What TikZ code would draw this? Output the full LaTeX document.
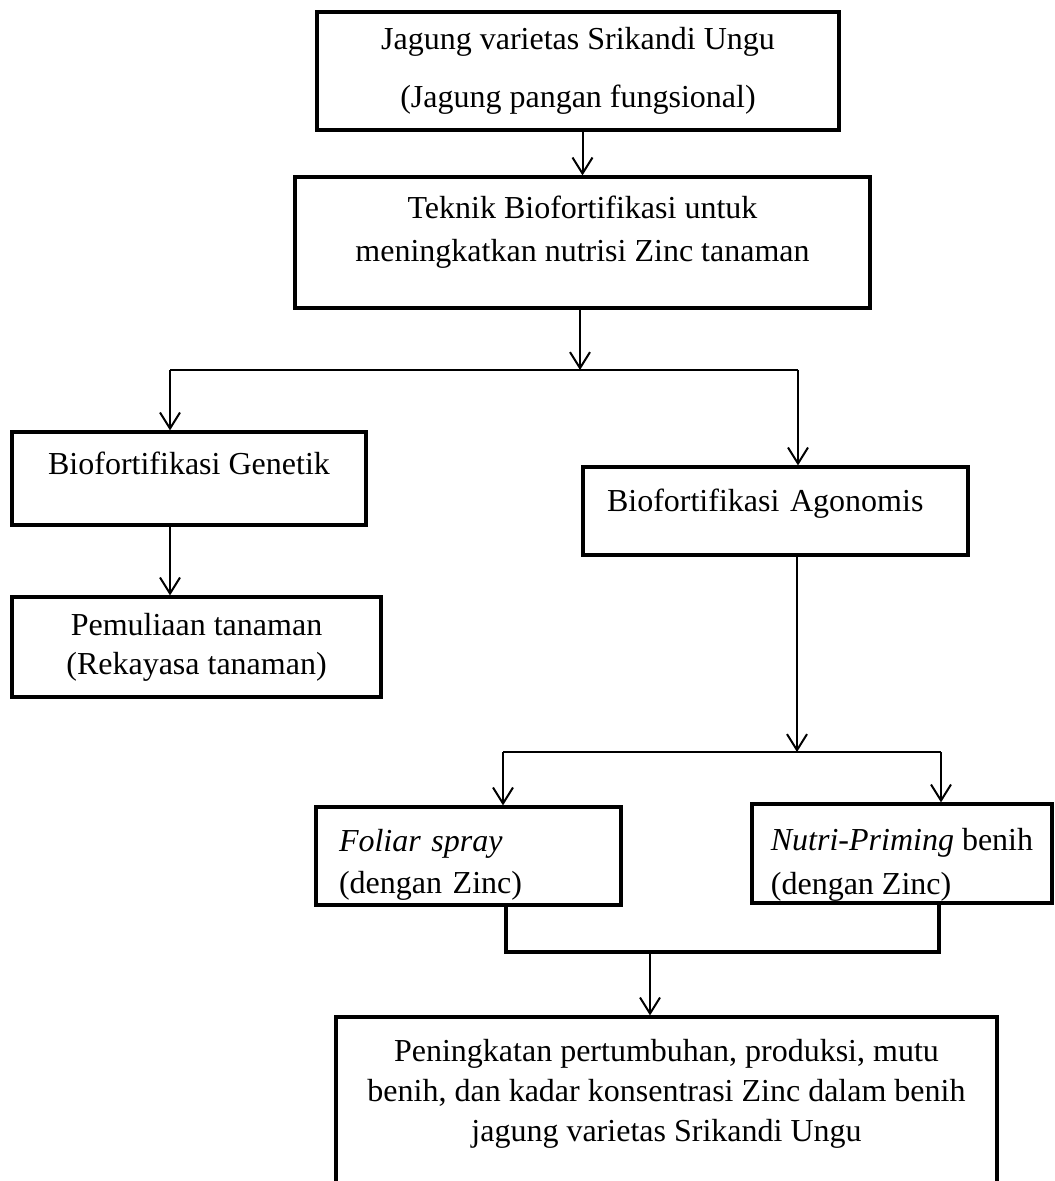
\documentclass[tikz,border=0pt]{standalone}
\usepackage{fontspec}
\setmainfont{Liberation Serif}
\usetikzlibrary{arrows.meta}

\begin{document}
\begin{tikzpicture}[
    x=0.5pt, y=-0.5pt,
    >={Straight Barb[length=8pt, width=10pt]},
    kotak/.style={rectangle, draw, line width=1.6pt, inner sep=0pt, font=\fontsize{16}{19}\selectfont, align=center},
    kotakkiri/.style={kotak, align=left},
    panah/.style={->, line width=1pt},
    garis/.style={line width=1.4pt},
    sambung/.style={line width=1.6pt}
  ]
    \path[use as bounding box, clip] (0,0) rectangle (1054,1181);

    % Jagung & teknik
    \node[kotak, minimum width=261pt, minimum height=59pt, font=\fontsize{16}{29}\selectfont] (jagung) at (578,71) {Jagung varietas Srikandi Ungu\\(Jagung pangan fungsional)};
    \node[kotak, minimum width=287.5pt, minimum height=65.5pt, font=\fontsize{16}{21.5}\selectfont] (teknik) at (582.5,242.5) {Teknik Biofortifikasi untuk\\meningkatkan nutrisi Zinc tanaman\\[-7.5pt]\mbox{}};

    % Cabang genetik
    \node[kotak, minimum width=177pt, minimum height=46.5pt] (genetik) at (189,478.5) {Biofortifikasi Genetik\\[-3.5pt]\mbox{}};
    \node[kotak, minimum width=184.5pt, minimum height=50pt, font=\fontsize{16}{19.5}\selectfont] (pemuliaan) at (196.5,647) {Pemuliaan tanaman\\(Rekayasa tanaman)};

    % Cabang agronomis
    \node[kotakkiri, inner xsep=12pt, text width=168.5pt, minimum height=44pt] (agonomis) at (775.5,511) {Biofortifikasi Agonomis\\[-8pt]\mbox{}};
    \node[kotakkiri, inner xsep=11.5pt, text width=129.5pt, minimum height=49pt, font=\fontsize{16}{21}\selectfont] (foliar) at (468.5,856) {\mbox{}\\[-1.5pt]\textit{Foliar spray}\\(dengan Zinc)};
    \node[kotakkiri, minimum width=150pt, minimum height=49.5pt, font=\fontsize{16}{22}\selectfont] (nutri) at (902,853.5) {\mbox{}\\[0pt]\textit{Nutri-Priming} benih\\(dengan Zinc)};

    % Hasil
    \node[kotak, minimum width=330.5pt, minimum height=116.5pt, font=\fontsize{16}{20}\selectfont] (hasil) at (666.5,1133.5) {Peningkatan pertumbuhan, produksi, mutu\\benih, dan kadar konsentrasi Zinc dalam benih\\jagung varietas Srikandi Ungu\\[23.5pt]\mbox{}};

    % Titik percabangan
    \coordinate (cabang) at (580,370);
    \coordinate (cabangkiri) at (170,370);
    \coordinate (cabangkanan) at (798,370);
    \coordinate (pisah) at (797,752);
    \coordinate (pisahkiri) at (503,752);
    \coordinate (pisahkanan) at (941,752);
    \coordinate (gabung) at (650,952);
    \coordinate (gabungkiri) at (506,952);
    \coordinate (gabungkanan) at (939,952);

    % Panah
    \draw[panah] (jagung.south -| teknik.north) -- (teknik.north);
    \draw[panah] (teknik.south -| cabang) -- (cabang);
    \draw[garis] (cabangkiri) -- (cabangkanan);
    \draw[panah] (cabangkiri) -- (cabangkiri |- genetik.north);
    \draw[panah] (cabangkanan) -- (cabangkanan |- agonomis.north);
    \draw[panah] (cabangkiri |- genetik.south) -- (cabangkiri |- pemuliaan.north);
    \draw[panah] (agonomis.south -| pisah) -- (pisah);
    \draw[garis] (pisahkiri) -- (pisahkanan);
    \draw[panah] (pisahkiri) -- (pisahkiri |- foliar.north);
    \draw[panah] (pisahkanan) -- (pisahkanan |- nutri.north);
    \draw[sambung] (gabungkiri |- foliar.south) -- (gabungkiri) -- (gabungkanan) -- (gabungkanan |- nutri.south);
    \draw[panah] (gabung) -- (gabung |- hasil.north);
  \end{tikzpicture}
\end{document}
